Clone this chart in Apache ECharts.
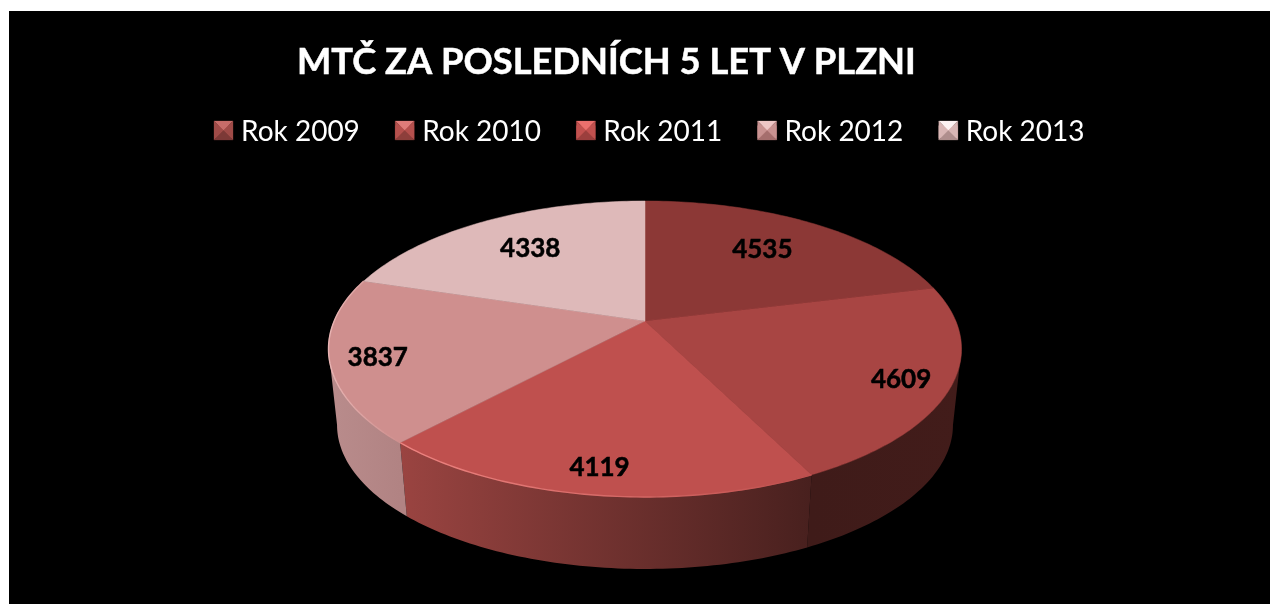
<!DOCTYPE html>
<html lang="cs">
<head>
<meta charset="utf-8">
<title>MTČ za posledních 5 let v Plzni</title>
<style>html,body{margin:0;padding:0;background:#fff}#chart{width:1270px;height:604px}</style>
<script src="https://cdn.jsdelivr.net/npm/echarts@6/dist/echarts.min.js"></script>
</head>
<body>
<div id="chart"></div>
<script>
// ---- data ----
const titleText = 'MTČ ZA POSLEDNÍCH 5 LET V PLZNI';
const categories = ['Rok 2009', 'Rok 2010', 'Rok 2011', 'Rok 2012', 'Rok 2013'];
const values = [4535, 4609, 4119, 3837, 4338];

// ---- slice styles ----
const faceColors = ['#8c3836', '#a84543', '#bf504e', '#cf8f8e', '#deb9b9'];
const wallStops = [
  ['#3e1a18', '#3e1a18'],
  ['#3f1b19', '#421c1a'],
  ['#9a4441', '#48201e'],
  ['#b98c8c', '#b18383'],
  ['#b98c8c', '#b98c8c']
];
const rimColors = [null, null, '#ee8481', '#e9b5b4', null];
const swatchTop = ['#c76c69', '#df7c79', '#ec706d', '#eec7c6', '#fdf3f3'];
const swatchSide = ['#a04b48', '#b5504d', '#c2514f', '#c99291', '#d9b6b5'];
const swatchBottom = ['#7c3937', '#8d3e3b', '#9b3f3d', '#a56e6d', '#af8e8d'];

// ---- perspective geometry of the pie disc ----
const CX = 645, CY = 321;        // projected pie centre
const A = 310.8, B = 0.189, H = 142.7; // horizontal scale, perspective, vertical scale
const ELLIPSE_CY = 349, DEPTH_SCALE = 0.973, DEPTH_DY = 76; // lower disc
const TANGENT_R = Math.acos(-B), TANGENT_L = 2 * Math.PI - TANGENT_R; // silhouette angles
const total = values.reduce((s, v) => s + v, 0);
const startAngles = values.map((_, i) => values.slice(0, i).reduce((s, v) => s + v, 0) / total * 2 * Math.PI);
const endAngles = values.map((_, i) => values.slice(0, i + 1).reduce((s, v) => s + v, 0) / total * 2 * Math.PI);

function topPoint(theta, r) {
  const u = Math.sin(theta) * r, v = Math.cos(theta) * r, w = 1 + B * v;
  return [CX + A * u / w, CY - H * v / w];
}
function bottomPoint(theta) {
  const p = topPoint(theta, 1);
  return [CX + (p[0] - CX) * DEPTH_SCALE, ELLIPSE_CY + (p[1] - ELLIPSE_CY) * DEPTH_SCALE + DEPTH_DY];
}
function sampled(a0, a1, step) {
  const n = Math.max(1, Math.ceil((a1 - a0) / step)), out = [];
  for (let k = 0; k <= n; k++) out.push(a0 + (a1 - a0) * k / n);
  return out;
}

function renderSlice(i) {
  return function (params, api) {
    const a0 = startAngles[i], a1 = endAngles[i];
    const arc = sampled(a0, a1, Math.PI / 180);
    const children = [];
    const xs = arc.map(t => topPoint(t, 1)[0]);

    // outer wall: only the part between the two silhouette tangents is visible
    const w0 = Math.max(a0, TANGENT_R), w1 = Math.min(a1, TANGENT_L);
    if (w1 > w0) {
      const wallArc = sampled(w0, w1, Math.PI / 180);
      const wx = wallArc.map(t => topPoint(t, 1)[0]);
      const grad = new echarts.graphic.LinearGradient(Math.min(...wx), 0, Math.max(...wx), 0, [
        { offset: 0, color: wallStops[i][0] },
        { offset: 1, color: wallStops[i][1] }
      ], true);
      children.push({
        type: 'polygon', silent: true, z2: 1,
        shape: { points: wallArc.map(t => topPoint(t, 1)).concat(wallArc.slice().reverse().map(bottomPoint)) },
        style: { fill: grad }
      });
    }

    // top face
    children.push({
      type: 'polygon', silent: true, z2: 10,
      shape: { points: [[CX, CY]].concat(arc.map(t => topPoint(t, 1))) },
      style: { fill: faceColors[i], stroke: faceColors[i], lineWidth: 0.5 }
    });

    // bright rim on the front edge
    if (rimColors[i]) {
      children.push({
        type: 'polyline', silent: true, z2: 11,
        shape: { points: arc.map(t => topPoint(t, 1)) },
        style: { fill: null, stroke: new echarts.graphic.LinearGradient(Math.min(...xs), 0, Math.max(...xs), 0, [
          { offset: 0, color: rimColors[i] },
          { offset: 1, color: faceColors[i] }
        ], true), lineWidth: 1.4 }
      });
    }

    // value label
    const mid = (a0 + a1) / 2;
    const back = Math.cos(mid) > 0;
    const lp = topPoint(mid, back ? 0.68 : 0.85);
    children.push({
      type: 'text', silent: true, z2: 20,
      style: {
        x: lp[0] - 1, y: lp[1] + (back ? -2 : 4), text: String(api.value(0)),
        fill: '#000', stroke: '#000', lineWidth: 0.5,
        font: 'bold 26px Lato', align: 'center', verticalAlign: 'middle'
      }
    });
    return { type: 'group', children };
  };
}

// bevelled legend swatches laid over the legend icons
const SW_X = 214, SW_Y = 121, SW_SIZE = 19, SW_STEP = 181.2;
function swatch(i) {
  const x = SW_X + i * SW_STEP, y = SW_Y, s = SW_SIZE, c = [x + s / 2, y + s / 2];
  const tri = (p, q, fill) => ({
    type: 'polygon', silent: true, z: 20,
    shape: { points: [p, q, c] }, style: { fill, stroke: fill, lineWidth: 0.3 }
  });
  return [
    tri([x, y], [x + s, y], swatchTop[i]),
    tri([x, y], [x, y + s], swatchSide[i]),
    tri([x + s, y], [x + s, y + s], swatchSide[i]),
    tri([x, y + s], [x + s, y + s], swatchBottom[i])
  ];
}

const chart = echarts.init(document.getElementById('chart'), null, { renderer: 'canvas' });
chart.setOption({
  animation: false,
  backgroundColor: '#ffffff',
  title: {
    text: titleText, left: 297, top: 44, padding: 0,
    textStyle: { color: '#fff', fontFamily: 'Lato', fontWeight: 'bold', fontSize: 36.3, textBorderColor: '#fff', textBorderWidth: 0.5 }
  },
  legend: {
    data: categories, left: 214, top: 118, itemWidth: 19, itemHeight: 13, itemGap: 35.3,
    icon: 'rect', selectedMode: false, padding: 0,
    textStyle: { color: '#fff', fontFamily: 'Lato', fontSize: 28, lineHeight: 19, padding: [0, 0, 0, 3] }
  },
  graphic: {
    elements: [
      { type: 'rect', silent: true, z: -10, shape: { x: 9, y: 11, width: 1261, height: 593 }, style: { fill: '#000' } }
    ].concat(...categories.map((_, i) => swatch(i)))
  },
  series: categories.map((name, i) => ({
    type: 'custom', name, coordinateSystem: 'none', silent: true,
    itemStyle: { color: faceColors[i] },
    data: [[values[i]]],
    renderItem: renderSlice(i)
  }))
});
</script>
</body>
</html>
